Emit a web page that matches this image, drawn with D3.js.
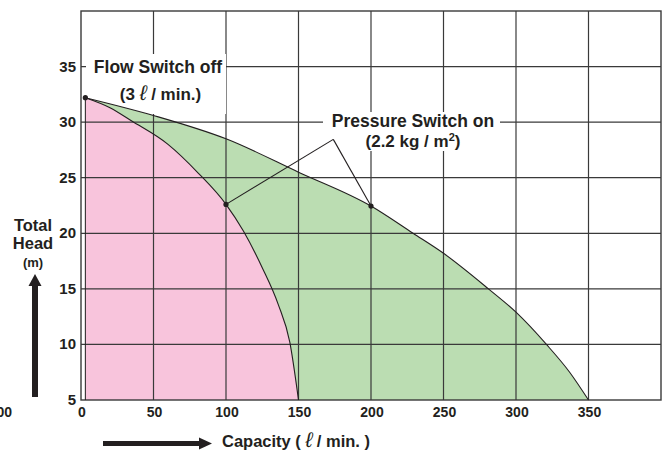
<!DOCTYPE html>
<html>
<head>
<meta charset="utf-8">
<script src="https://cdn.jsdelivr.net/npm/d3@7"></script>
<style>
  html, body { margin: 0; padding: 0; background: #fff; }
  svg { display: block; }
  text { font-family: "Liberation Sans", Arial, Helvetica, sans-serif; font-weight: bold; fill: #231f20; }
</style>
</head>
<body>
<svg id="chart" width="669" height="450"></svg>
<script>
// ---- data ----
const xTicks = [0, 50, 100, 150, 200, 250, 300, 350];
const yTicks = [5, 10, 15, 20, 25, 30, 35];
const xGrid = [50, 100, 150, 200, 250, 300, 350];
const yGrid = [10, 15, 20, 25, 30, 35];

// lower curve (pink) : capacity (l/min) vs head (m)
const pinkCap  = [3, 20, 35, 60, 81, 100, 112, 125, 136, 144, 150];
const pinkHead = [32.2, 31.3, 30.1, 28.0, 25.4, 22.6, 20.2, 16.9, 13.6, 10.2, 5.0];

// upper curve (green)
const greenCap  = [3, 50, 100, 150, 200, 229, 250, 281, 300, 321, 337, 350];
const greenHead = [32.2, 30.6, 28.5, 25.5, 22.45, 20.0, 18.2, 15.0, 12.9, 10.0, 7.5, 5.0];

const flowOffCap = [3];
const flowOffHead = [32.2];
const pressOnCap = [100, 200];
const pressOnHead = [22.6, 22.45];

// ---- drawing ----
const svg = d3.select("#chart");
const x = d3.scaleLinear().domain([0, 400]).range([81, 661]);
const y = d3.scaleLinear().domain([5, 40]).range([400, 11]);

const pinkPts = pinkCap.map((c, i) => [c, pinkHead[i]]);
const greenPts = greenCap.map((c, i) => [c, greenHead[i]]);

const crv = d3.curveMonotoneX;
const line = d3.line().x(d => x(d[0])).y(d => y(d[1])).curve(crv);
const area = d3.area().x(d => x(d[0])).y0(y(5)).y1(d => y(d[1])).curve(crv);

// fills
svg.append("path").attr("d", area(greenPts)).attr("fill", "#bbddb2");
svg.append("path").attr("d", area(pinkPts)).attr("fill", "#f8c4dc");

// grid
const grid = svg.append("g").attr("stroke", "#3a3a3a").attr("stroke-width", 1.2);
grid.selectAll("line.v").data(xGrid).join("line")
  .attr("x1", d => x(d)).attr("x2", d => x(d)).attr("y1", y(40)).attr("y2", y(5));
grid.selectAll("line.h").data(yGrid).join("line")
  .attr("x1", x(0)).attr("x2", x(400)).attr("y1", d => y(d)).attr("y2", d => y(d));

// clip: outside fill region
const defs = svg.append("defs");
const outsidePath = "M" + x(0) + "," + y(40) + "H" + x(400) + "V" + y(5) + "H" + x(0) + "Z" +
  area(greenPts);
defs.append("clipPath").attr("id", "outside")
  .append("path").attr("d", outsidePath).attr("clip-rule", "evenodd");

// white boxes behind annotations
const boxes = svg.append("g").attr("clip-path", "url(#outside)").attr("fill", "#fff");
boxes.append("rect").attr("x", 86).attr("y", 54).attr("width", 140).attr("height", 60);
boxes.append("rect").attr("x", 323).attr("y", 112).attr("width", 177).attr("height", 39);

// border
svg.append("rect").attr("x", x(0)).attr("y", y(40)).attr("width", x(400) - x(0)).attr("height", y(5) - y(40))
  .attr("fill", "none").attr("stroke", "#3a3a3a").attr("stroke-width", 1.4);

// curve strokes
svg.append("path").attr("d", line(greenPts)).attr("fill", "none").attr("stroke", "#231f20").attr("stroke-width", 1.1);
svg.append("path").attr("d", line(pinkPts)).attr("fill", "none").attr("stroke", "#231f20").attr("stroke-width", 1.1);
svg.append("line").attr("x1", x(3)).attr("x2", x(3)).attr("y1", y(32.2)).attr("y2", y(5))
  .attr("stroke", "#231f20").attr("stroke-width", 1);

// tick labels
svg.selectAll("text.xt").data(xTicks).join("text").attr("class", "xt")
  .attr("x", d => x(d) + 1).attr("y", 417).attr("text-anchor", "middle")
  .attr("font-size", 14).text(d => d);
svg.selectAll("text.yt").data(yTicks).join("text").attr("class", "yt")
  .attr("x", 76).attr("y", d => y(d) + 5).attr("text-anchor", "end")
  .attr("font-size", 15).text(d => d);
svg.append("text").attr("x", 12).attr("y", 417).attr("text-anchor", "end").attr("font-size", 14).text("100");

// leader lines
const apex = [174, 28.45];
const leaders = svg.append("g").attr("stroke", "#231f20").attr("stroke-width", 1.1);
pressOnCap.forEach((c, i) => {
  leaders.append("line").attr("x1", x(apex[0])).attr("y1", y(apex[1]))
    .attr("x2", x(c)).attr("y2", y(pressOnHead[i]));
});

// dots
svg.selectAll("circle.p").data(pressOnCap.map((c, i) => [c, pressOnHead[i]]).concat(flowOffCap.map((c, i) => [c, flowOffHead[i]])))
  .join("circle").attr("cx", d => x(d[0])).attr("cy", d => y(d[1])).attr("r", 2.6).attr("fill", "#231f20");

// annotations
svg.append("text").attr("x", 158).attr("y", 73).attr("text-anchor", "middle").attr("font-size", 17.5).text("Flow Switch off");
const t2 = svg.append("text").attr("x", 160.5).attr("y", 100).attr("text-anchor", "middle").attr("font-size", 17);
t2.append("tspan").text("(3 ");
t2.append("tspan").attr("font-style", "italic").attr("font-weight", "normal").attr("font-size", 21).text("ℓ");
t2.append("tspan").text(" / min.)");

svg.append("text").attr("x", 413).attr("y", 127).attr("text-anchor", "middle").attr("font-size", 17.5).text("Pressure Switch on");
const t4 = svg.append("text").attr("x", 413).attr("y", 147).attr("text-anchor", "middle").attr("font-size", 17);
t4.append("tspan").text("(2.2 kg / m");
t4.append("tspan").attr("font-size", 11).attr("dy", -6).text("2");
t4.append("tspan").attr("dy", 6).text(")");

// y axis title
const yt = svg.append("g");
yt.append("text").attr("x", 33).attr("y", 231).attr("text-anchor", "middle").attr("font-size", 16.5).text("Total");
yt.append("text").attr("x", 33).attr("y", 249).attr("text-anchor", "middle").attr("font-size", 16.5).text("Head");
yt.append("text").attr("x", 33).attr("y", 267).attr("text-anchor", "middle").attr("font-size", 13).text("(m)");
// up arrow
yt.append("rect").attr("x", 32).attr("y", 283).attr("width", 6).attr("height", 114).attr("fill", "#231f20");
yt.append("path").attr("d", "M35,274 L41.5,286 L28.5,286 Z").attr("fill", "#231f20");

// x axis title
svg.append("rect").attr("x", 103).attr("y", 441).attr("width", 98).attr("height", 5).attr("fill", "#231f20");
svg.append("path").attr("d", "M212,443.5 L199,437.5 L199,449.5 Z").attr("fill", "#231f20");
const xtl = svg.append("text").attr("x", 222).attr("y", 447).attr("font-size", 16.5);
xtl.append("tspan").text("Capacity ( ");
xtl.append("tspan").attr("font-style", "italic").attr("font-weight", "normal").attr("font-size", 21).text("ℓ");
xtl.append("tspan").text(" / min. )");
</script>
</body>
</html>
